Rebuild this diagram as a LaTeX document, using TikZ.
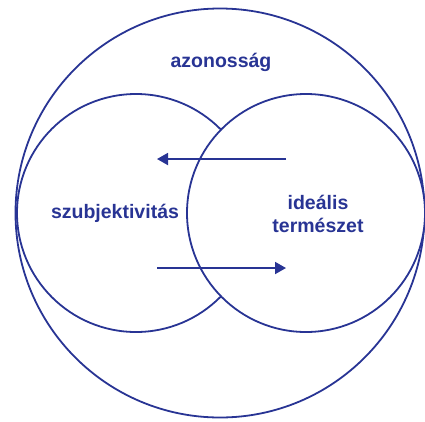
\documentclass[tikz,border=0pt]{standalone}
\usepackage{fontspec}
\setmainfont{Liberation Sans}
\usetikzlibrary{arrows.meta}
\definecolor{kek}{RGB}{40,52,148}
\tikzset{
    kor/.style={draw=kek,line width=1.8pt,circle,inner sep=0pt},
    felirat/.style={text=kek,font=\bfseries\fontsize{19.5}{23}\selectfont,align=center},
    nyil/.style={draw=kek,line width=1.8pt,-{Triangle[length=11pt,width=12pt]}}
}

\begin{document}
\begin{tikzpicture}[x=1pt,y=-1pt]
    \useasboundingbox (0,0) rectangle (425,421);
    \node[kor,minimum size=409pt] (Egesz) at (220,213) {};% outer circle
    \node[kor,minimum size=238pt] (Szubj) at (136,213) {};
    \node[kor,minimum size=238pt,fill=white] (Ideal) at (306,213) {};% covers the left one
    \coordinate (FentJobb) at (286,159);
    \coordinate (FentBal)  at (157,159);
    \coordinate (LentBal)  at (157,268);
    \coordinate (LentJobb) at (286,268);
    \draw[nyil] (FentJobb) -- (FentBal);
    \draw[nyil] (LentBal) -- (LentJobb);
    \node[felirat] (Azon) at (221,62)  {azonosság};
    \node[felirat] (SzubjT) at (115,213) {szubjektivitás};
    \node[felirat] (IdealT) at (318,214) {ideális\\természet};
\end{tikzpicture}
\end{document}
